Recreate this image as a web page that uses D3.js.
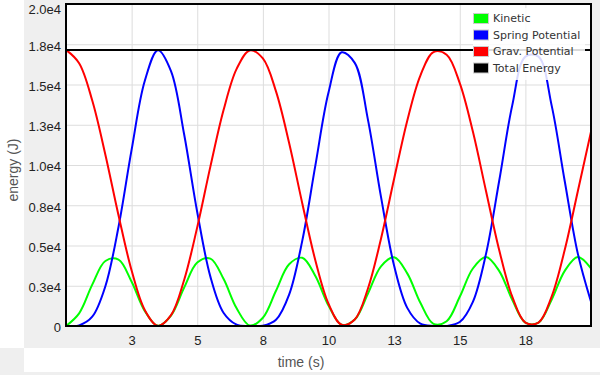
<!DOCTYPE html>
<html>
<head>
<meta charset="utf-8">
<script src="https://cdn.jsdelivr.net/npm/d3@7"></script>
<style>
  html, body { margin: 0; padding: 0; background: #efefef; }
  #chart { width: 600px; height: 375px; }
</style>
</head>
<body>
<div id="chart"></div>
<script>
// 数据: 时间 (s) 和 三种能量 (J)
var times = [0, 0.5, 1, 1.5, 2, 2.5, 3, 3.5, 4, 4.5, 5, 5.5, 6, 6.5, 7, 7.5, 8, 8.5, 9, 9.5,
  10, 10.5, 11, 11.5, 12, 12.5, 13, 13.5, 14, 14.5, 15, 15.5, 16, 16.5, 17, 17.5, 18, 18.5, 19, 19.5, 20];
var kinetic = [0, 786, 2568, 4038, 4120, 2752, 938, 9, 644, 2381, 3942, 4185, 2931, 1099, 33, 515, 2191, 3832, 4235, 3104,
  1269, 75, 398, 2001, 3709, 4269, 3270, 1445, 133, 295, 1813, 3573, 4285, 3427, 1627, 207, 207, 1627, 3427, 4285, 3573];
var spring = [0, 40, 577, 2470, 6151, 10955, 15217, 17133, 15835, 11913, 7065, 3066, 821, 81, 0, 16, 388, 1949, 5286, 9975,
  14502, 16999, 16343, 12835, 8016, 3738, 1127, 148, 1, 5, 248, 1502, 4479, 8991, 13702, 16734, 16734, 13702, 8991, 4479, 1502];
var grav = [17150, 16324, 14006, 10642, 6879, 3443, 996, 9, 671, 2856, 6142, 9898, 13398, 15969, 17117, 16618, 14572, 11369, 7628, 4071,
  1380, 75, 408, 2314, 5425, 9144, 12753, 15557, 17016, 16850, 15089, 12074, 8386, 4733, 1820, 209, 209, 1820, 4733, 8386, 12074];
var totalTimes = [0, 20];
var total = [17150, 17150];

var seriesNames = ["Kinetic", "Spring Potential", "Grav. Potential", "Total Energy"];
var seriesColors = ["#00ff00", "#0000ff", "#ff0000", "#000000"];

var xTicks = [2.5, 5, 7.5, 10, 12.5, 15, 17.5];
var xTickLabels = ["3", "5", "8", "10", "13", "15", "18"];
var yTicks = [0, 2500, 5000, 7500, 10000, 12500, 15000, 17500, 20000];
var yTickLabels = ["0", "0.3e4", "0.5e4", "0.8e4", "1.0e4", "1.3e4", "1.5e4", "1.8e4", "2.0e4"];

// 边距
var margin = { top: 4, right: 9, bottom: 49, left: 66 };
var width = 600, height = 375;
var plotWidth = width - margin.left - margin.right;
var plotHeight = height - margin.top - margin.bottom;

var svg = d3.select("#chart").append("svg")
  .attr("width", width)
  .attr("height", height)
  .style("font-family", "Verdana, 'DejaVu Sans', sans-serif");

// 背景块
svg.append("rect").attr("x", 0).attr("y", 0).attr("width", width).attr("height", height).attr("fill", "#efefef");
svg.append("rect").attr("x", 0).attr("y", 0).attr("width", 24).attr("height", 348).attr("fill", "#ffffff");
svg.append("rect").attr("x", 24).attr("y", 348).attr("width", 576).attr("height", 24).attr("fill", "#ffffff");

var xScale = d3.scaleLinear().domain([0, 20]).range([0, plotWidth]);
var yScale = d3.scaleLinear().domain([0, 20000]).range([plotHeight, 0]);

var plot = svg.append("g").attr("transform", `translate(${margin.left}, ${margin.top})`);

plot.append("rect")
  .attr("width", plotWidth)
  .attr("height", plotHeight)
  .attr("fill", "#ffffff");

// 网格
plot.append("g")
  .attr("class", "grid")
  .attr("transform", `translate(0, ${plotHeight})`)
  .call(d3.axisBottom(xScale).tickValues(xTicks).tickSize(-plotHeight).tickFormat(""))
  .call(g => g.select(".domain").remove())
  .call(g => g.selectAll("line").attr("stroke", "#dddddd"));
plot.append("g")
  .attr("class", "grid")
  .call(d3.axisLeft(yScale).tickValues(yTicks.slice(1, -1)).tickSize(-plotWidth).tickFormat(""))
  .call(g => g.select(".domain").remove())
  .call(g => g.selectAll("line").attr("stroke", "#dddddd"));

// 坐标轴标签
var xAxis = d3.axisBottom(xScale).tickValues(xTicks).tickSize(0).tickPadding(10)
  .tickFormat((d, i) => xTickLabels[i]);
plot.append("g")
  .attr("transform", `translate(0, ${plotHeight})`)
  .call(xAxis)
  .call(g => g.select(".domain").remove())
  .call(g => g.selectAll("text").attr("fill", "#222").attr("font-size", "13px").attr("font-family", null));

var yAxis = d3.axisLeft(yScale).tickValues(yTicks).tickSize(0).tickPadding(5)
  .tickFormat((d, i) => yTickLabels[i]);
plot.append("g")
  .call(yAxis)
  .call(g => g.select(".domain").remove())
  .call(g => g.selectAll("text").attr("fill", "#222").attr("font-size", "13px").attr("font-family", null)
    .attr("dy", (d, i) => i == yTicks.length - 1 ? "0.75em" : "0.45em"));

// 曲线
plot.append("clipPath").attr("id", "clip")
  .append("rect").attr("width", plotWidth).attr("height", plotHeight);

var line = d3.line()
  .x(d => xScale(d[0]))
  .y(d => yScale(d[1]))
  .curve(d3.curveCatmullRom);

var curves = [
  times.map((t, i) => [t, kinetic[i]]),
  times.map((t, i) => [t, spring[i]]),
  times.map((t, i) => [t, grav[i]]),
  totalTimes.map((t, i) => [t, total[i]])
];
var lines = plot.append("g").attr("clip-path", "url(#clip)");
lines.selectAll("path")
  .data(curves)
  .join("path")
  .attr("d", line)
  .attr("fill", "none")
  .attr("stroke", (d, i) => seriesColors[i])
  .attr("stroke-width", 2);

// 边框
plot.append("rect")
  .attr("width", plotWidth)
  .attr("height", plotHeight)
  .attr("fill", "none")
  .attr("stroke", "#000")
  .attr("stroke-width", 2);

// 图例
var legend = plot.append("g").attr("transform", `translate(${plotWidth - 118}, 4)`);
legend.append("rect")
  .attr("width", 112)
  .attr("height", 72)
  .attr("fill", "#ffffff")
  .attr("opacity", 0.85);
var items = legend.selectAll(".item")
  .data(seriesNames)
  .join("g")
  .attr("class", "item")
  .attr("transform", (d, i) => `translate(0, ${10.5 + i * 16.5})`);
items.append("rect")
  .attr("x", 0.5)
  .attr("y", -5)
  .attr("width", 15)
  .attr("height", 10)
  .attr("fill", (d, i) => seriesColors[i])
  .attr("stroke", "#cccccc")
  .attr("stroke-width", 1);
items.append("text")
  .attr("x", 20)
  .attr("dy", "0.35em")
  .attr("font-size", "11px")
  .attr("fill", "#333")
  .text(d => d);

// 轴标题
svg.append("text")
  .attr("transform", `translate(13, 170) rotate(-90)`)
  .attr("text-anchor", "middle")
  .attr("dy", "0.35em")
  .attr("font-family", "'Liberation Sans', Arial, sans-serif")
  .attr("font-size", "14px")
  .attr("fill", "#555")
  .text("energy (J)");
svg.append("text")
  .attr("x", 301)
  .attr("y", 362)
  .attr("text-anchor", "middle")
  .attr("dy", "0.35em")
  .attr("font-family", "'Liberation Sans', Arial, sans-serif")
  .attr("font-size", "14px")
  .attr("fill", "#555")
  .text("time (s)");
</script>
</body>
</html>
